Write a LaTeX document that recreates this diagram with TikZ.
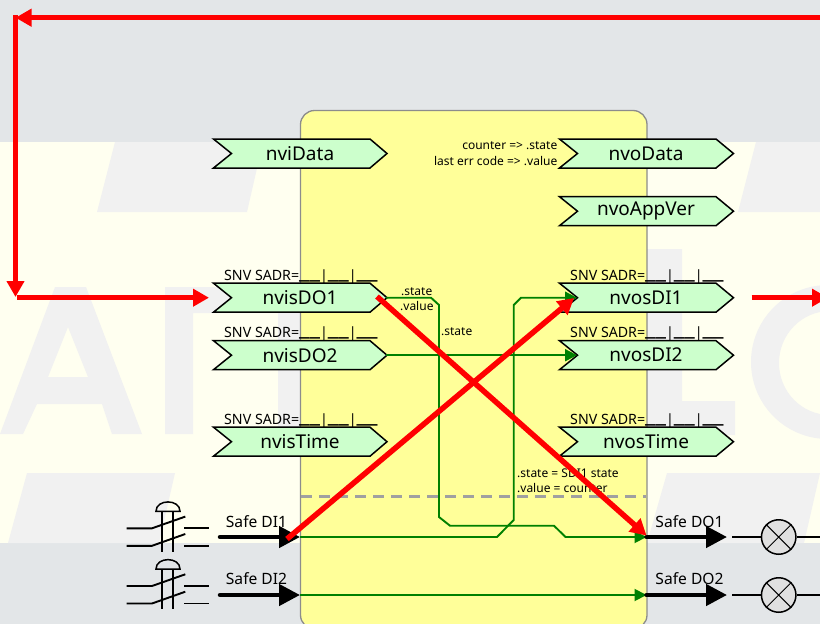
\documentclass[tikz,border=0pt]{standalone}
\usepackage{fontspec}
\setmainfont{Noto Sans}
\usetikzlibrary{arrows.meta}
\definecolor{bandgray}{HTML}{E3E6E8}
\definecolor{cream}{HTML}{FFFFF0}
\definecolor{wmark}{HTML}{F1F1F1}
\definecolor{blockfill}{HTML}{FFFF99}
\definecolor{blockedge}{HTML}{8C8C8C}
\definecolor{pinfill}{HTML}{CCFFCC}
\definecolor{wire}{HTML}{008000}
\definecolor{dashgray}{HTML}{A0A0A0}
\definecolor{lampfill}{HTML}{E0E0E0}
\tikzset{
  x=1pt,y=-1pt,
  pinshape/.style={draw=black,fill=pinfill,line width=1.5pt,line join=miter},
  pinname/.style={inner sep=0pt,font=\fontsize{19}{19}\selectfont,text=black},
  snvlabel/.style={inner sep=0pt,anchor=base west,font=\fontsize{14.2}{14}\selectfont},
  smalltext/.style={inner sep=0pt,font=\fontsize{12}{12}\selectfont},
  safelabel/.style={inner sep=0pt,font=\fontsize{15.6}{16}\selectfont},
  wireline/.style={draw=wire,line width=1.9pt},
  wirearrow/.style={wireline,-{Triangle[length=12pt,width=12pt,fill=wire]}},
  redline/.style={draw=red,line width=5.5pt},
  redarrow/.style={redline,-{Triangle[length=16pt,width=17pt,fill=red]}},
  blackarrow/.style={draw=black,line width=4.5pt,line cap=round,-{Triangle[length=21pt,width=21pt,fill=black]}},
  symline/.style={draw=black,line width=1.9pt},
  wm/.style={fill=wmark,draw=none}
}
\newcommand{\usgroup}{\raisebox{1.8pt}{\fontsize{23.5}{23.5}\selectfont\_\_}}
\newcommand{\snvtext}{SNV SADR=\usgroup|\usgroup|\usgroup}
\newcommand{\inpin}[3]{% name, mid y, text
  \draw[pinshape] (213.5,#2-14.5) -- (370,#2-14.5) -- (387,#2) -- (370,#2+14.5) -- (213.5,#2+14.5) -- (231.5,#2) -- cycle;
  \node[pinname] (#1) at (300,#2) {#3};
}
\newcommand{\outpin}[3]{%
  \draw[pinshape] (559.5,#2-14.5) -- (716,#2-14.5) -- (733.5,#2) -- (716,#2+14.5) -- (559.5,#2+14.5) -- (577.5,#2) -- cycle;
  \node[pinname] (#1) at (646,#2) {#3};
}
\newcommand{\pushswitch}[1]{% y of upper contact
  \draw[symline] (126.7,#1) -- (152,#1) -- (185.3,#1-11.7);
  \draw[symline] (126.7,#1+17.5) -- (152,#1+17.5) -- (185.3,#1+5.7);
  \draw[symline] (184,#1) -- (209,#1);
  \draw[symline] (184,#1+17.5) -- (209,#1+17.5);
  \draw[symline] (161.7,#1-17) -- (161.7,#1+23.4);
  \draw[symline] (173,#1-17) -- (173,#1+23.4);
  \draw[draw=black,line width=1.5pt] (156,#1-17) .. controls (156,#1-29.5) and (180,#1-29.5) .. (180,#1-17) -- cycle;
}
\newcommand{\lamp}[2]{% name, y
  \node[circle,draw=black,fill=lampfill,line width=1.5pt,minimum size=34.5pt,inner sep=0pt] (#1) at (778.7,#2) {};
  \draw[draw=black,line width=1pt] (#1.45) -- (#1.225) (#1.135) -- (#1.315);
  \coordinate (#1a) at (732,#2);
  \coordinate (#1b) at (825,#2);
  \draw[draw=black,line width=1.5pt] (#1a) -- (#1.west) (#1.east) -- (#1b);
}
\begin{document}
\begin{tikzpicture}
\clip (0,0) rectangle (820,624);
% background
\fill[bandgray] (0,0) rectangle (820,624);
\fill[cream] (0,142) rectangle (820,543);
% watermark
\fill[wm] (115,142) -- (263,142) -- (247,212) -- (97,212) -- cycle;
\fill[wm] (756,142) -- (820,142) -- (820,212) -- (738,212) -- cycle;
\fill[wm,even odd rule] (0,434) -- (23,434) -- (37,404) -- (102,404) -- (112,434) -- (142,434) -- (86,287) -- (55,287) -- cycle
  (68,327) -- (48,377) -- (88,377) -- cycle;
\fill[wm] (165,287) -- (300,287) -- (300,434) -- (278,434) -- (278,313) -- (193,313) -- (193,434) -- (165,434) -- cycle;
\fill[wm] (647,249) -- (682,249) -- (682,401) -- (735,401) -- (735,435) -- (647,435) -- cycle;
\fill[wm,even odd rule] (828,362) ellipse [x radius=77,y radius=77] (830,363) ellipse [x radius=51,y radius=52];
\fill[wm] (27,473) -- (175,473) -- (159,543) -- (8,543) -- cycle;
\fill[wm] (667,473) -- (820,473) -- (804,543) -- (647,543) -- cycle;
% block
\draw[draw=blockedge,fill=blockfill,line width=1.3pt,rounded corners=14pt] (300.5,110.5) rectangle (647,629);
\draw[draw=dashgray,line width=2.2pt,dash pattern=on 11pt off 7pt] (301,496.5) -- (646,496.5);
% pins
\inpin{nviData}{153.5}{nviData}
\inpin{nvisDOa}{297.7}{nvisDO1}
\inpin{nvisDOb}{355.2}{nvisDO2}
\inpin{nvisTime}{441.7}{nvisTime}
\outpin{nvoData}{153.5}{nvoData}
\outpin{nvoAppVer}{211.2}{nvoAppVer}
\outpin{nvosDIa}{297.7}{nvosDI1}
\outpin{nvosDIb}{355.2}{nvosDI2}
\outpin{nvosTime}{441.7}{nvosTime}
% snv labels
\node[snvlabel] (sa) at (224,280) {\snvtext};
\node[snvlabel] (sb) at (224,337) {\snvtext};
\node[snvlabel] (sc) at (224,424) {\snvtext};
\node[snvlabel] (sd) at (570,280) {\snvtext};
\node[snvlabel] (se) at (570,337) {\snvtext};
\node[snvlabel] (sf) at (570,424) {\snvtext};
% small text
\node[smalltext,anchor=east] (ca) at (557.5,146) {counter => .state};
\node[smalltext,anchor=east] (cb) at (557.5,161) {last err code => .value};
\node[smalltext,anchor=west] (cc) at (401,292) {.state};
\node[smalltext,anchor=west] (cd) at (400,306) {.value};
\node[smalltext,anchor=west] (ce) at (441,332) {.state};
\node[smalltext,anchor=west] (cf) at (517,473) {.state = SDI1 state};
\node[smalltext,anchor=west] (cg) at (517,488) {.value = counter};
% named ends
\coordinate (doaOut) at (386,297.7);
\coordinate (dobOut) at (386,355.2);
\coordinate (diaIn) at (577,297.7);
\coordinate (dibIn) at (577,355.2);
\coordinate (sdiaE) at (300,537);
\coordinate (sdibE) at (300,595);
\coordinate (sdoaW) at (646.5,537);
\coordinate (sdobW) at (646.5,595);
% green wires
\draw[wirearrow] (doaOut) -- (431,297.7) -- (439,305) -- (439,517) -- (450,525.7) -- (554,525.7) -- (565.5,537) -- (sdoaW);
\draw[wirearrow] (sdiaE) -- (497,537) -- (513.7,520) -- (513.7,305) -- (521,297.7) -- (diaIn);
\draw[wirearrow] (dobOut) -- (dibIn);
\draw[wirearrow] (sdibE) -- (sdobW);
% switches and lamps
\pushswitch{528.3}
\pushswitch{586}
\lamp{lampa}{537}
\lamp{lampb}{595}
% black arrows
\coordinate (sdiaW) at (220,537);
\coordinate (sdibW) at (220,595);
\coordinate (sdoaE) at (727,537);
\coordinate (sdobE) at (727,595);
\draw[blackarrow] (sdiaW) -- (sdiaE);
\draw[blackarrow] (sdibW) -- (sdibE);
\draw[blackarrow] (sdoaW) -- (sdoaE);
\draw[blackarrow] (sdobW) -- (sdobE);
\node[safelabel] (la) at (256.5,522) {Safe DI1};
\node[safelabel] (lb) at (256.5,579) {Safe DI2};
\node[safelabel] (lc) at (689.5,522) {Safe DO1};
\node[safelabel] (ld) at (689.5,579) {Safe DO2};
% red arrows
\coordinate (ra) at (825,17.7);
\coordinate (rb) at (15.5,17.7);
\coordinate (rc) at (15.5,15);
\coordinate (rd) at (15.5,297);
\coordinate (re) at (17,297.7);
\coordinate (rf) at (209,297.7);
\coordinate (rg) at (751.7,297.7);
\coordinate (rh) at (828,297.7);
\coordinate (ri) at (377,296.5);
\coordinate (rj) at (646.5,535.5);
\coordinate (rk) at (287,539);
\coordinate (rl) at (574,298);
\draw[redarrow] (ra) -- (rb);
\draw[redarrow] (rc) -- (rd);
\draw[redarrow] (re) -- (rf);
\draw[redarrow] (rg) -- (rh);
\draw[redarrow] (ri) -- (rj);
\draw[redarrow] (rk) -- (rl);
\end{tikzpicture}
\end{document}
